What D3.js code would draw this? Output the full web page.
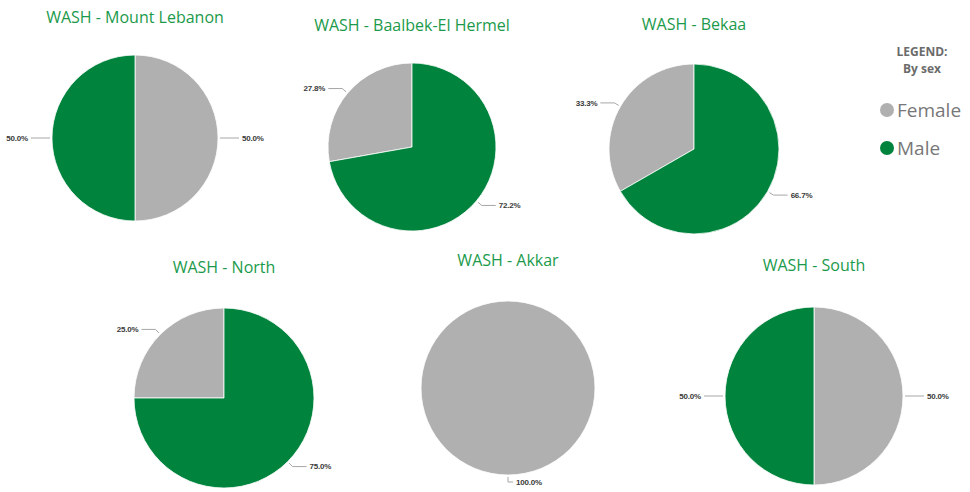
<!DOCTYPE html>
<html>
<head>
<meta charset="utf-8">
<script src="https://cdn.jsdelivr.net/npm/d3@7"></script>
<style>
  html, body { margin: 0; padding: 0; background: #fff; }
  svg { display: block; }
</style>
</head>
<body>
<div id="chart"></div>
<script>
'use strict';

// Data (share of WASH respondents, %)
const regions = ['Mount Lebanon', 'Baalbek-El Hermel', 'Bekaa', 'North', 'Akkar', 'South'];
const sexes = ['Female', 'Male'];
const femaleShare = [50.0, 27.8, 33.3, 25.0, 100.0, 50.0];
const maleShare = [50.0, 72.2, 66.7, 75.0, 0.0, 50.0];

// Layout of the small multiples (centre, radius, title baseline)
const layout = [
    { cx: 135, cy: 138, r: 83, ty: 23 },
    { cx: 412, cy: 147, r: 84, ty: 31 },
    { cx: 694, cy: 149, r: 85, ty: 30 },
    { cx: 224, cy: 398, r: 90, ty: 273 },
    { cx: 508, cy: 388, r: 87, ty: 266 },
    { cx: 814, cy: 396, r: 89, ty: 271 }
];

const width = 970, height = 492;

const palette = {
    title: '#1b9a4b',
    legend: '#6b6b6b'
};

const color = d3.scaleOrdinal()
    .domain(sexes)
    .range(['#b0b0b0', '#00843d']);

const svg = d3.select('#chart').append('svg')
    .attr('width', width)
    .attr('height', height);

// Slices sorted by value, largest first, clockwise from 12 o'clock
const pie = d3.pie()
    .value(d => d.value)
    .sortValues(null)
    .sort((a, b) => d3.descending(a.value, b.value));

const arc = d3.arc().innerRadius(0);

regions.forEach((region, i) => {
    const L = layout[i];
    const values = sexes.map((s, j) => ({
        sex: s,
        value: j === 0 ? femaleShare[i] : maleShare[i]
    }));

    const g = svg.append('g')
        .attr('transform', `translate(${L.cx},${L.cy})`);

    svg.append('text')
        .attr('x', L.cx)
        .attr('y', L.ty)
        .attr('text-anchor', 'middle')
        .attr('font-family', '"Open Sans", sans-serif')
        .attr('font-size', 16)
        .attr('fill', palette.title)
        .text('WASH - ' + region);

    const slices = pie(values).filter(d => d.data.value > 0);

    g.selectAll('path.slice')
        .data(slices)
        .join('path')
        .classed('slice', true)
        .attr('d', d => arc.outerRadius(L.r)(d))
        .attr('fill', d => color(d.data.sex))
        .attr('stroke', '#fff')
        .attr('stroke-width', 0.8);

    // Leader lines and data labels
    slices.forEach(d => {
        const mid = (d.startAngle + d.endAngle) / 2;
        const sx = Math.sin(mid), sy = -Math.cos(mid);
        const right = mid <= Math.PI + 1e-6;
        const p0 = [sx * (L.r + 2), sy * (L.r + 2)];
        const p1 = [sx * (L.r + 7), sy * (L.r + 7)];
        const len = d.data.value === 100 ? 5 : 14;
        const p2 = [p1[0] + (right ? len : -len), p1[1]];

        g.append('polyline')
            .attr('points', [p0, p1, p2].map(p => p.join(',')).join(' '))
            .attr('fill', 'none')
            .attr('stroke', '#a6a6a6')
            .attr('stroke-width', 1);

        g.append('text')
            .attr('x', p2[0] + (right ? 3 : -3))
            .attr('y', p2[1])
            .attr('dy', '0.35em')
            .attr('text-anchor', right ? 'start' : 'end')
            .attr('font-family', '"Liberation Sans", Arial, sans-serif')
            .attr('font-size', 8)
            .attr('font-weight', 'bold')
            .attr('letter-spacing', -0.2)
            .attr('fill', '#3a3a3a')
            .text(d3.format('.1f')(d.data.value) + '%');
    });
});

// Legend
const legend = svg.append('g');

legend.selectAll('text.head')
    .data(['LEGEND:', 'By sex'])
    .join('text')
    .classed('head', true)
    .attr('x', 922)
    .attr('y', (d, i) => 56 + i * 17)
    .attr('text-anchor', 'middle')
    .attr('font-family', '"Open Sans", sans-serif')
    .attr('font-size', 12)
    .attr('font-weight', 'bold')
    .attr('fill', palette.legend)
    .text(d => d);

const items = legend.selectAll('g.item')
    .data(sexes)
    .join('g')
    .classed('item', true)
    .attr('transform', (d, i) => `translate(887,${110 + i * 38})`);

items.append('circle')
    .attr('r', 7)
    .attr('fill', d => color(d));

items.append('text')
    .attr('x', 10)
    .attr('dy', '0.35em')
    .attr('font-family', '"Open Sans", sans-serif')
    .attr('font-size', 19)
    .attr('fill', '#777')
    .text(d => d);
</script>
</body>
</html>
